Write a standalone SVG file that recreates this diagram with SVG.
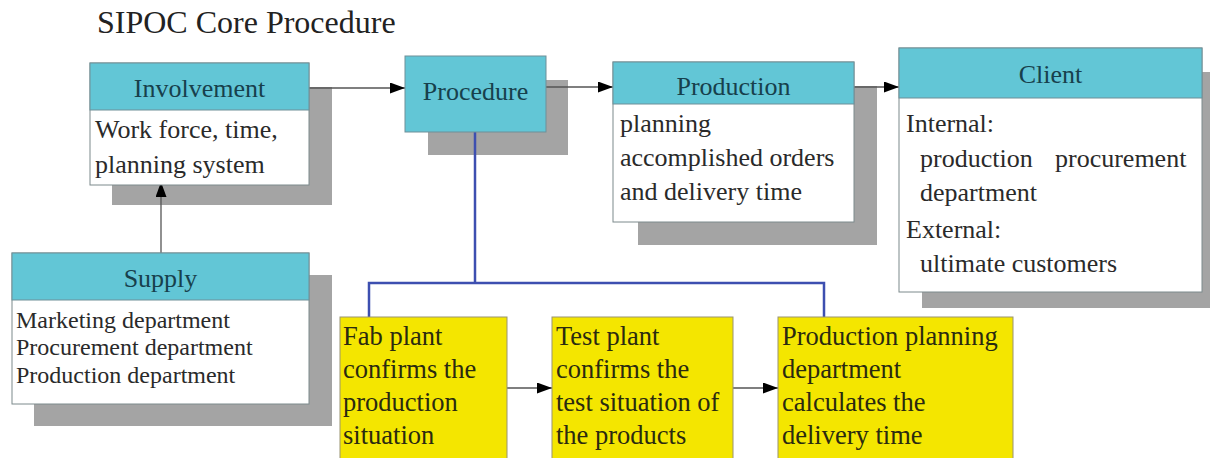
<svg xmlns="http://www.w3.org/2000/svg" width="1214" height="458" viewBox="0 0 1214 458">
<style>
.shadow{fill:#a4a4a4}
.hdr{fill:#62c6d6;stroke:#6f8f98;stroke-width:1}
.body{fill:#ffffff;stroke:#7d8a8c;stroke-width:1}
.yel{fill:#f4e600;stroke:#9a9470;stroke-width:1}
.ht{font-family:"Liberation Serif",serif;font-size:26px;fill:#17404c;text-anchor:middle}
.bt{font-family:"Liberation Serif",serif;font-size:26px;fill:#2a2a2a}
.st{font-family:"Liberation Serif",serif;font-size:24px;fill:#2a2a2a}
.yt{font-family:"Liberation Serif",serif;font-size:26.5px;fill:#2a2a10}
.title{font-family:"Liberation Serif",serif;font-size:32px;fill:#222}
.arr{stroke:#555;stroke-width:1.3;fill:none;marker-end:url(#ah)}
.blue{stroke:#3d4fb0;stroke-width:2.5;fill:none}
</style>
<defs>
<marker id="ah" viewBox="0 0 15 11" refX="15" refY="5.5" markerWidth="15" markerHeight="11" markerUnits="userSpaceOnUse" orient="auto">
<path d="M0,0 L15,5.5 L0,11 Z" fill="#000"/>
</marker>
</defs>
<rect width="1214" height="458" fill="#ffffff"/>
<text class="title" x="97" y="33">SIPOC Core Procedure</text>

<g id="shadows">
<rect class="shadow" x="112" y="87" width="220" height="118"/>
<rect class="shadow" x="428" y="80" width="140" height="75"/>
<rect class="shadow" x="638" y="86" width="239" height="159"/>
<rect class="shadow" x="922" y="72" width="288" height="236"/>
<rect class="shadow" x="34" y="275" width="298" height="151"/>
</g>

<g id="connectors">
<line class="arr" x1="309" y1="88" x2="405" y2="88"/>
<line class="arr" x1="546" y1="87" x2="613" y2="87"/>
<line class="arr" x1="854" y1="87" x2="899" y2="87"/>
<line class="arr" x1="161" y1="253" x2="161" y2="182"/>
<line class="arr" x1="507" y1="388" x2="552" y2="388"/>
<line class="arr" x1="733" y1="388" x2="778" y2="388"/>
<path class="blue" d="M475,132 V283"/>
<path class="blue" d="M369,317 V283 H824 V317"/>
</g>

<g id="involvement">
<rect class="body" x="90" y="63" width="219" height="122"/>
<rect class="hdr" x="90" y="63" width="219" height="47"/>
<text class="ht" x="199.5" y="97">Involvement</text>
<text class="bt" x="95" y="138">Work force, time,</text>
<text class="bt" x="95" y="173">planning system</text>
</g>

<g id="procedure">
<rect class="hdr" x="405" y="56" width="141" height="76"/>
<text class="ht" x="475.5" y="100">Procedure</text>
</g>

<g id="production">
<rect class="body" x="613" y="62" width="241" height="160"/>
<rect class="hdr" x="613" y="62" width="241" height="42"/>
<text class="ht" x="733.5" y="95">Production</text>
<text class="bt" x="620" y="132">planning</text>
<text class="bt" x="620" y="166">accomplished orders</text>
<text class="bt" x="620" y="200">and delivery time</text>
</g>

<g id="client">
<rect class="body" x="899" y="48" width="303" height="244"/>
<rect class="hdr" x="899" y="48" width="303" height="50"/>
<text class="ht" x="1050.5" y="83">Client</text>
<text class="bt" x="906" y="132">Internal:</text>
<text class="bt" x="920" y="167">production</text>
<text class="bt" x="1055" y="167">procurement</text>
<text class="bt" x="920" y="201">department</text>
<text class="bt" x="906" y="238">External:</text>
<text class="bt" x="920" y="272">ultimate customers</text>
</g>

<g id="supply">
<rect class="body" x="12" y="253" width="297" height="151"/>
<rect class="hdr" x="12" y="253" width="297" height="47"/>
<text class="ht" x="160.5" y="287">Supply</text>
<text class="st" x="16" y="328">Marketing department</text>
<text class="st" x="16" y="355">Procurement department</text>
<text class="st" x="16" y="383">Production department</text>
</g>

<g id="fab">
<rect class="yel" x="340" y="317" width="167" height="160"/>
<text class="yt" x="343" y="345">Fab plant</text>
<text class="yt" x="343" y="378">confirms the</text>
<text class="yt" x="343" y="411">production</text>
<text class="yt" x="343" y="444">situation</text>
</g>

<g id="test">
<rect class="yel" x="552" y="317" width="181" height="160"/>
<text class="yt" x="556" y="345">Test plant</text>
<text class="yt" x="556" y="378">confirms the</text>
<text class="yt" x="556" y="411">test situation of</text>
<text class="yt" x="556" y="444">the products</text>
</g>

<g id="planning">
<rect class="yel" x="778" y="317" width="235" height="160"/>
<text class="yt" x="782" y="345">Production planning</text>
<text class="yt" x="782" y="378">department</text>
<text class="yt" x="782" y="411">calculates the</text>
<text class="yt" x="782" y="444">delivery time</text>
</g>
</svg>
